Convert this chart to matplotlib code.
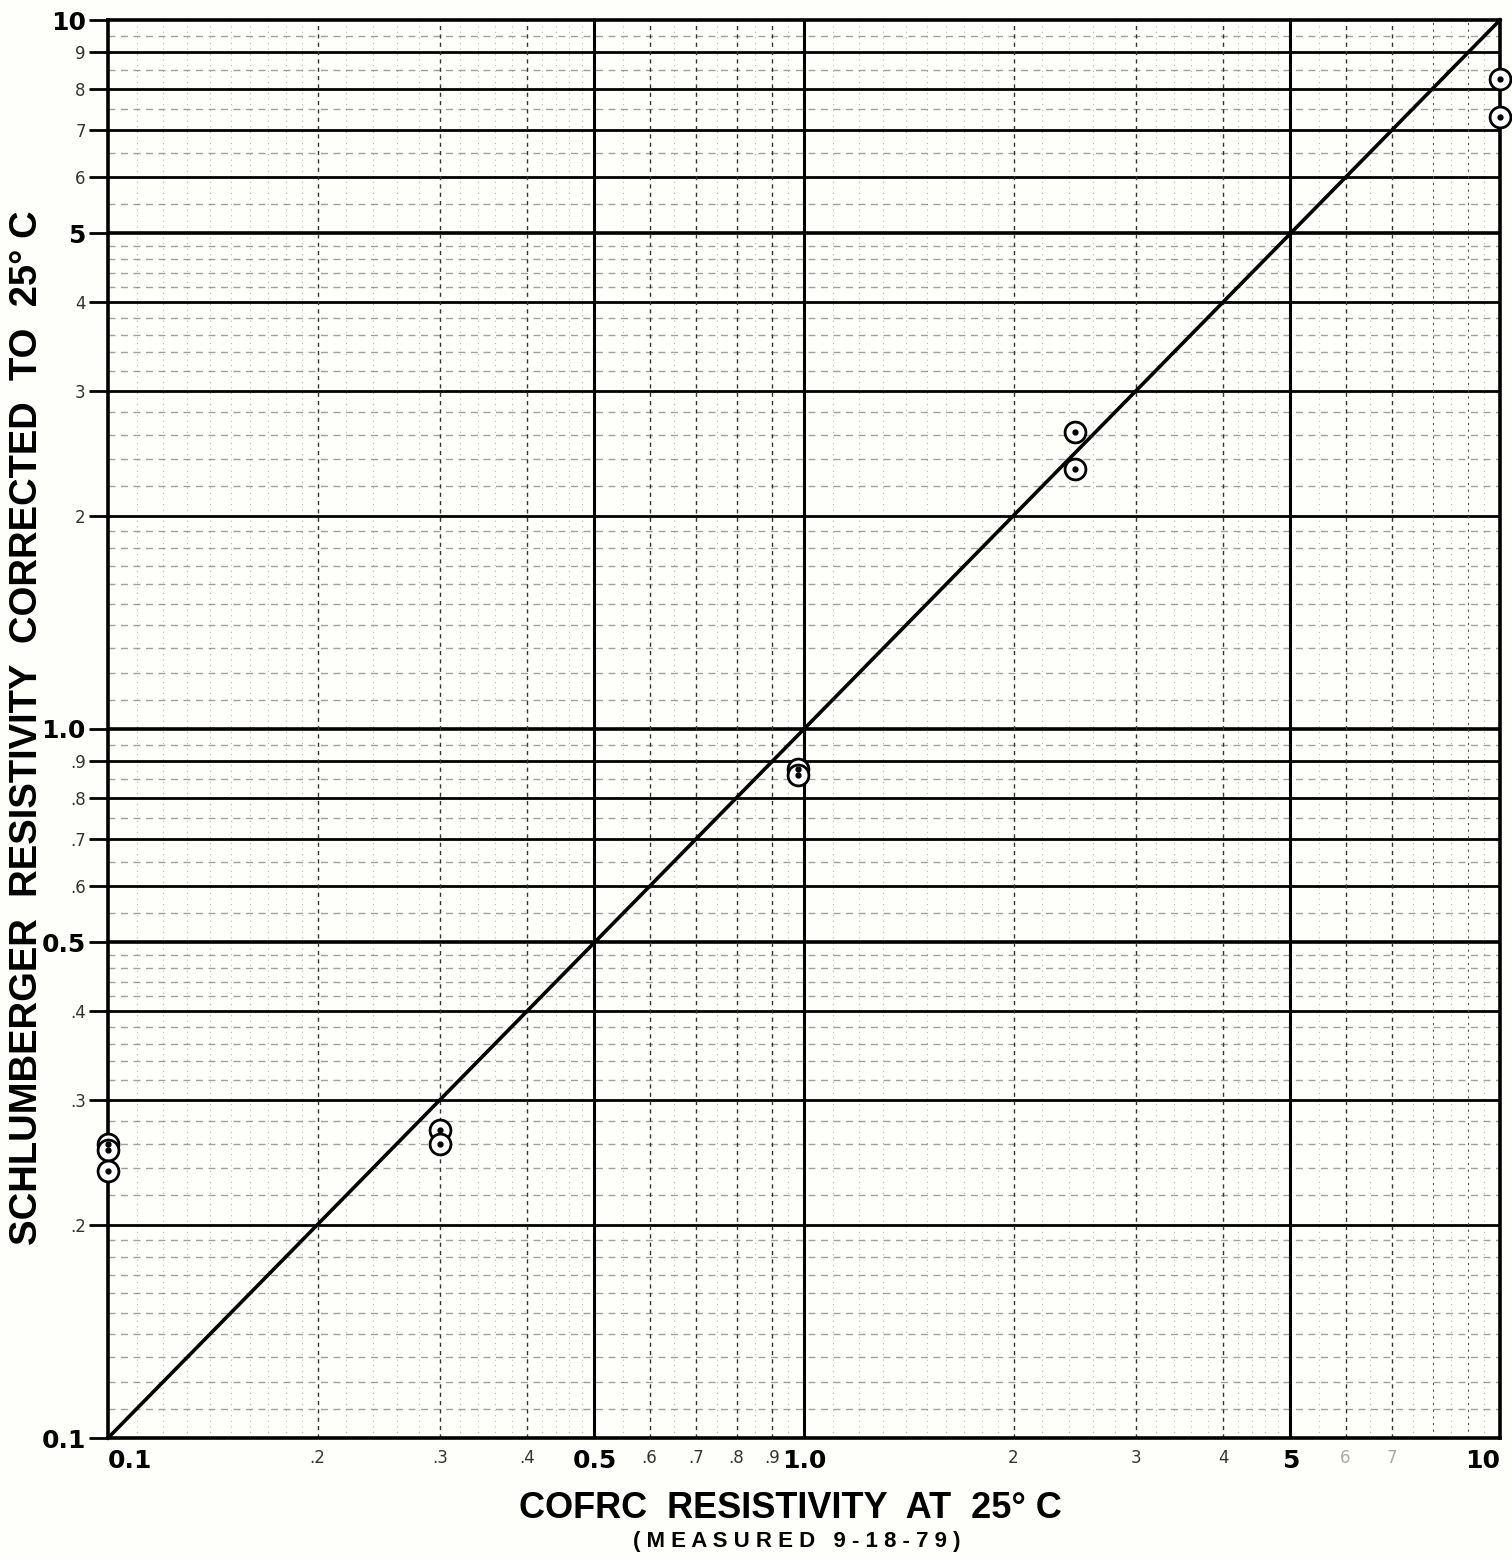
import numpy as np
import matplotlib
matplotlib.use("Agg")
import matplotlib.pyplot as plt

# ---------------- data ----------------
cofrc_x = [0.1, 0.1, 0.1, 0.3, 0.3, 0.98, 0.98, 2.45, 2.45, 10.0, 10.0]
schl_y  = [0.260, 0.255, 0.238, 0.272, 0.260, 0.877, 0.862, 2.62, 2.33, 8.25, 7.30]

line_x = [0.1, 10.0]
line_y = [0.1, 10.0]

x_tick_vals   = [0.1, 0.2, 0.3, 0.4, 0.5, 0.6, 0.7, 0.8, 0.9, 1.0, 2, 3, 4, 5, 6, 7, 10]
x_tick_labels = ["0.1", ".2", ".3", ".4", "0.5", ".6", ".7", ".8", ".9", "1.0", "2", "3", "4", "5", "6", "7", "10"]
x_tick_bold   = ["0.1", "0.5", "1.0", "5", "10"]

y_tick_vals   = [0.1, 0.2, 0.3, 0.4, 0.5, 0.6, 0.7, 0.8, 0.9, 1.0, 2, 3, 4, 5, 6, 7, 8, 9, 10]
y_tick_labels = ["0.1", ".2", ".3", ".4", "0.5", ".6", ".7", ".8", ".9", "1.0", "2", "3", "4", "5", "6", "7", "8", "9", "10"]
y_tick_bold   = ["0.1", "0.5", "1.0", "5", "10"]

x_title = "COFRC  RESISTIVITY  AT  25° C"
x_subtitle = "( M E A S U R E D   9 - 1 8 - 7 9 )"
y_title = "SCHLUMBERGER  RESISTIVITY  CORRECTED  TO  25° C"

# ---------------- figure ----------------
fig = plt.figure(figsize=(15.12, 15.6), dpi=100)
fig.patch.set_facecolor("#fefefb")
ax = fig.add_axes([108/1512, 122/1560, 1392/1512, 1418/1560])
ax.set_facecolor("#fefefb")
ax.set_xscale("log")
ax.set_yscale("log")
ax.set_xlim(0.1, 10)
ax.set_ylim(0.1, 10)

# minor grid (log paper)
def subdivisions(step_by_decade):
    vals = []
    for dec in [0.1, 1.0]:
        for lo, hi, st in step_by_decade:
            v = np.arange(lo, hi, st) * dec
            vals.extend(list(v))
    return sorted(set(np.round(vals, 6)))

minor_spec = [(1.0, 2.0, 0.1), (2.0, 5.0, 0.2), (5.0, 10.0, 0.5)]
minor_vals = [v for v in subdivisions(minor_spec)
              if not np.isclose(v / 10**np.floor(np.log10(v)), np.round(v / 10**np.floor(np.log10(v))))]

for v in minor_vals:
    ax.axhline(v, color="#444444", lw=1.0, ls=(0, (5, 4)), alpha=0.5, zorder=1)
    ax.axvline(v, color="#666666", lw=0.8, ls=(0, (1, 4)), alpha=0.45, zorder=1)

# main grid lines
heavy = [0.5, 1.0, 5.0]
for v in y_tick_vals[1:-1]:
    ax.axhline(v, color="black", lw=2.6 if v in heavy else 2.0, zorder=2)
for v in x_tick_vals[1:-1]:
    if v in heavy:
        ax.axvline(v, color="black", lw=2.2, zorder=2)
    else:
        ax.axvline(v, color="#333333", lw=1.0, ls=(0, (3, 3)), zorder=2)
for v in [8, 9]:
    ax.axvline(v, color="#555555", lw=0.8, ls=(0, (2, 4)), zorder=2)

# diagonal 1:1 line
ax.plot(line_x, line_y, color="black", lw=2.6, zorder=3, clip_on=False)

# data: circle with centre dot
ax.plot(cofrc_x, schl_y, ls="none", marker="o", ms=15, mfc="white", mec="black",
        mew=2.0, zorder=4, clip_on=False)
ax.plot(cofrc_x, schl_y, ls="none", marker="o", ms=3.5, mfc="black", mec="black",
        zorder=5, clip_on=False)

for s in ax.spines.values():
    s.set_linewidth(2.6)
    s.set_color("black")

# ticks
ax.xaxis.set_minor_locator(matplotlib.ticker.NullLocator())
ax.yaxis.set_minor_locator(matplotlib.ticker.NullLocator())
ax.set_xticks(x_tick_vals)
ax.set_xticklabels(x_tick_labels)
ax.set_yticks(y_tick_vals)
ax.set_yticklabels(y_tick_labels)
ax.tick_params(axis="x", length=0, pad=8)
ax.tick_params(axis="y", length=14, width=2.0, pad=2)

for lab in ax.get_xticklabels():
    t = lab.get_text()
    if t in x_tick_bold:
        lab.set_fontsize(18); lab.set_fontweight("bold")
        if t == "0.1":
            lab.set_horizontalalignment("left")
        if t == "10":
            lab.set_horizontalalignment("right")
    else:
        lab.set_fontsize(12); lab.set_color("#333333")
        if t in ["6", "7"]:
            lab.set_color("#aaaaaa")
for lab in ax.get_yticklabels():
    t = lab.get_text()
    if t in y_tick_bold:
        lab.set_fontsize(18); lab.set_fontweight("bold")
    else:
        lab.set_fontsize(12); lab.set_color("#333333")

# titles
fig.text(790/1512, 1-1508/1560, x_title, ha="center", va="center",
         fontsize=26, fontweight="bold", family="Liberation Sans")
fig.text(797/1512, 1-1542/1560, x_subtitle, ha="center", va="center",
         fontsize=16, fontweight="bold", family="Liberation Sans")
fig.text(27/1512, 1-728/1560, y_title, ha="center", va="center", rotation=90,
         fontsize=27.5, fontweight="bold", family="Liberation Sans")

fig.savefig("out.png", dpi=100, facecolor=fig.get_facecolor())
